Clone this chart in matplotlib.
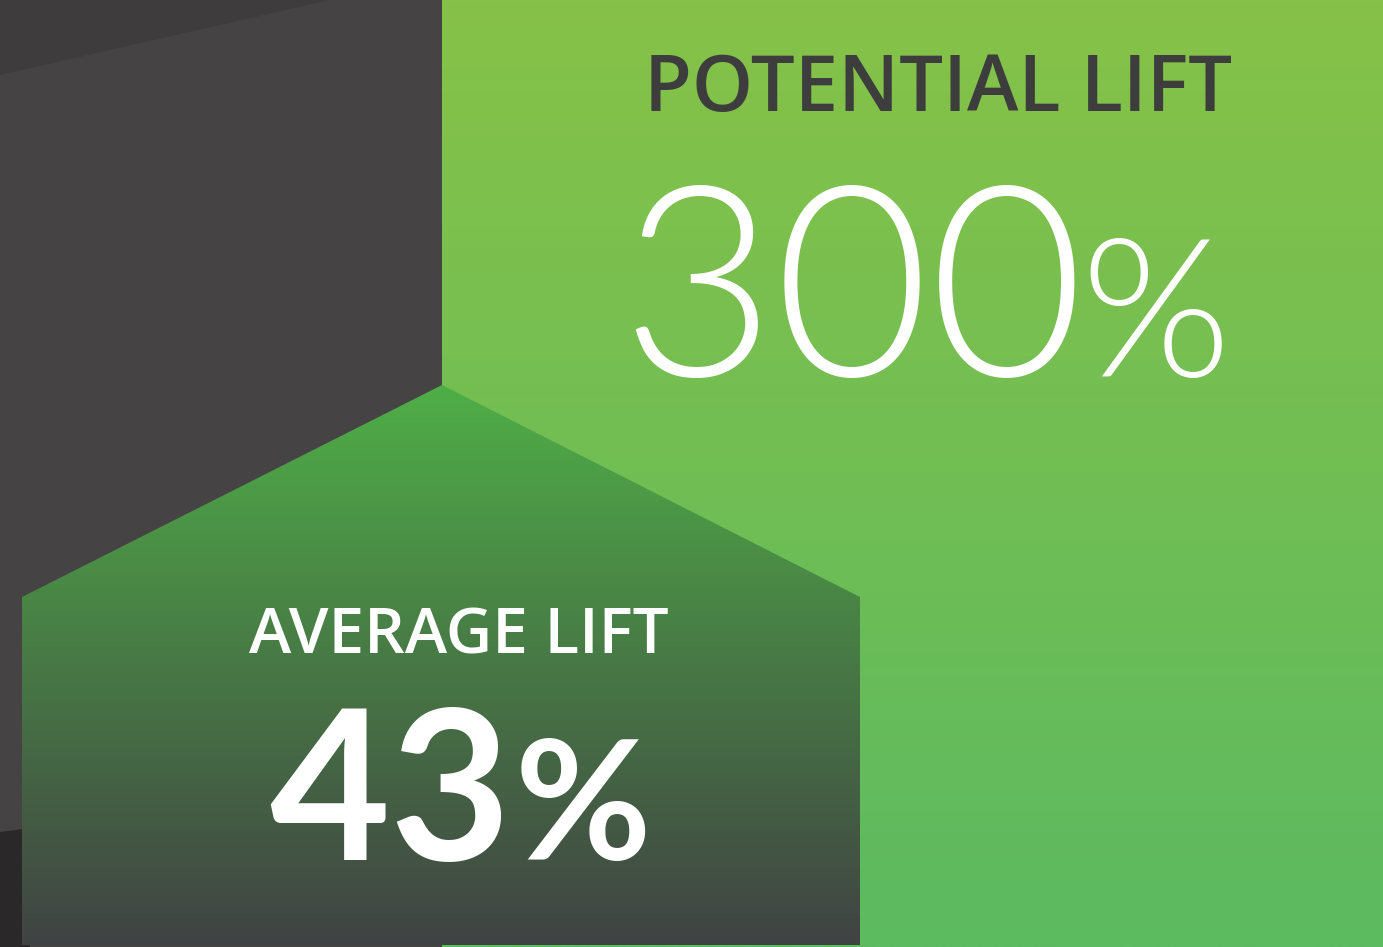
import matplotlib
matplotlib.use("Agg")
import matplotlib.pyplot as plt
from matplotlib.patches import Polygon
import numpy as np

W, H = 1383, 947

labels = ["POTENTIAL LIFT", "AVERAGE LIFT"]
values = [300, 43]

fig = plt.figure(figsize=(W / 100, H / 100), dpi=100)
ax = fig.add_axes([0, 0, 1, 1])
ax.set_xlim(0, W)
ax.set_ylim(H, 0)
ax.axis("off")


def vgrad(x0, x1, y0, y1, c_top, c_bot, clip=None, z=1):
    c_top = np.array(matplotlib.colors.to_rgb(c_top))
    c_bot = np.array(matplotlib.colors.to_rgb(c_bot))
    t = np.linspace(0, 1, 256)[:, None]
    img = (c_top * (1 - t) + c_bot * t)[:, None, :]
    im = ax.imshow(img, extent=(x0, x1, y1, y0), aspect="auto", zorder=z,
                   interpolation="bilinear")
    if clip is not None:
        im.set_clip_path(clip)
    return im


# dark backdrop on the left
ax.add_patch(Polygon([(0, 0), (442, 0), (442, H), (0, H)], fc="#454344", ec="none", zorder=0))
ax.add_patch(Polygon([(0, 0), (330, 0), (0, 75)], fc="#3e3c3d", ec="none", zorder=0.5))
ax.add_patch(Polygon([(0, 832), (30, 828), (30, H), (0, H)], fc="#2a2829", ec="none", zorder=0.5))

# green panel
vgrad(442, W, 0, H, "#86c248", "#5cba60", z=1)

# pentagon shape
pent = Polygon([(22, 597), (442, 385), (860, 597), (860, 945), (22, 945)],
               fc="none", ec="none", zorder=2)
ax.add_patch(pent)
vgrad(22, 860, 385, 945, "#4fae47", "#404343", clip=pent, z=2)

# potential lift
ax.text(938, 111, labels[0], color="#3d3d3d", fontsize=56, fontweight="semibold",
        family="Open Sans", ha="center", va="baseline", zorder=5)
ax.text(852, 376, f"{values[0]}", color="white", fontsize=192, fontweight=300,
        family="Lato", ha="center", va="baseline", zorder=5)
ax.text(1156, 376, "%", color="white", fontsize=139, fontweight=300,
        family="Lato", ha="center", va="baseline", zorder=5)

# average lift
ax.text(459, 653, labels[1], color="white", fontsize=46, fontweight="semibold",
        family="Open Sans", ha="center", va="baseline", zorder=5)
ax.text(390, 860, f"{values[1]}", color="white", fontsize=150, fontweight="bold",
        family="Lato", ha="center", va="baseline", zorder=5)
ax.text(583, 860, "%", color="white", fontsize=120, fontweight="bold",
        family="Lato", ha="center", va="baseline", zorder=5)

fig.savefig("out.png", dpi=100)
